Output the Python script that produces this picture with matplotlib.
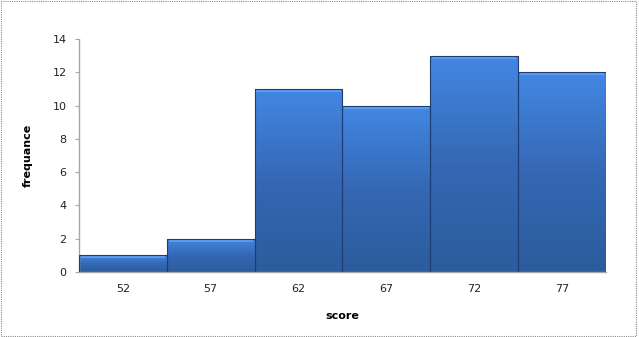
import numpy as np
import matplotlib.pyplot as plt
from matplotlib.colors import LinearSegmentedColormap
from matplotlib.patches import Rectangle

# histogram data
scores = ['52', '57', '62', '67', '72', '77']
frequency = [1, 2, 11, 10, 13, 12]

fig = plt.figure(figsize=(6.39, 3.37), dpi=100)
ax = fig.add_axes([0.1236, 0.193, 0.8247, 0.691])

# gradient from dark blue (bottom) to bright blue (top)
cmap = LinearSegmentedColormap.from_list('bar', ['#2b5c9c', '#3568b4', '#4287e4'])
grad = np.linspace(0, 1, 256).reshape(-1, 1)

x = np.arange(len(scores))
bars = ax.bar(x, frequency, width=1.0, color='none', edgecolor='#1f3d73', linewidth=0.8, zorder=3)
for b in bars:
    x0, w, h = b.get_x(), b.get_width(), b.get_height()
    im = ax.imshow(grad, cmap=cmap, origin='lower', aspect='auto',
                   extent=[x0, x0 + w, 0, h], zorder=2)
    im.set_clip_path(b)
    # bevel highlight at top of bar
    ax.add_patch(Rectangle((x0 + 0.02, h - 0.18), w - 0.04, 0.16,
                           facecolor='#6aa8f5', edgecolor='none', alpha=0.7, zorder=2.5))

ax.set_xlim(-0.5, len(scores) - 0.5)
ax.set_ylim(0, 14)
ax.set_yticks(range(0, 15, 2))
ax.set_xticks(x)
ax.set_xticklabels(scores)

for side in ['top', 'right']:
    ax.spines[side].set_visible(False)
for side in ['left', 'bottom']:
    ax.spines[side].set_color('#a6a6a6')
    ax.spines[side].set_linewidth(1.0)

ax.tick_params(axis='y', length=3, color='#a6a6a6', labelsize=8, pad=6, labelcolor='#222222')
ax.tick_params(axis='x', length=0, labelsize=8, pad=9, labelcolor='#222222')

ax.set_ylabel('frequance', fontsize=8, fontweight='bold', labelpad=14)
ax.set_xlabel('score', fontsize=8, fontweight='bold', labelpad=12)

# dashed gray frame around the whole chart
fig.patches.append(Rectangle((0.002, 0.004), 0.994, 0.992, transform=fig.transFigure,
                             fill=False, edgecolor='#8c8c8c', linestyle=(0, (1, 1)), linewidth=0.8))

fig.savefig('out.png', dpi=100)
